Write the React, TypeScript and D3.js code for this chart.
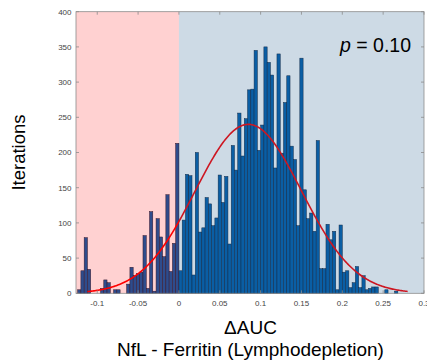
import React from 'react';
import * as d3 from 'd3';

// ---- data ----
const binStart = -0.124;
const binWidth = 0.004;
const counts = [
  5, 32, 79, 34, 0, 0, 0, 7, 19, 15, 0, 5, 5, 0, 0, 13, 37, 25, 28, 30, 82, 7, 116, 3, 106, 80, 52, 140, 31, 71, 213,
  32, 104, 169, 167, 26, 200, 87, 93, 136, 127, 96, 107, 168, 129, 166,
  70, 210, 175, 256, 195, 248, 289, 290, 345, 203, 239, 350,
  328, 310, 178, 340, 199, 271, 309, 209, 190, 96, 334, 147, 106, 114, 88, 217,
  35, 35, 98, 76, 88, 5, 97,
  30, 32, 8, 15, 38, 8, 25, 5, 7, 9, 9, 0, 0, 5, 0, 0, 3,
];
const xTicks = [-0.1, -0.05, 0, 0.05, 0.1, 0.15, 0.2, 0.25, 0.3];
const xTickLabels = ['-0.1', '-0.05', '0', '0.05', '0.1', '0.15', '0.2', '0.25', '0.3'];
const yTicks = [0, 50, 100, 150, 200, 250, 300, 350, 400];
const yTickLabels = ['0', '50', '100', '150', '200', '250', '300', '350', '400'];
const xDomain = [-0.126, 0.3];
const yDomain = [0, 400];
const fitMean = 0.085;
const fitSd = 0.065;
const fitPeak = 240;
const fitRange = [-0.112, 0.28];
const splitValue = 0;
const pLabel = 'p';
const pValueText = ' = 0.10';
const xTitle = 'ΔAUC';
const xSubtitle = 'NfL - Ferritin (Lymphodepletion)';
const yTitle = 'Iterations';

const FONT = '"Liberation Sans", Arial, Helvetica, sans-serif';

export default function App() {
  const W = 427;
  const H = 364;
  const left = 76, right = 424, top = 11.7, bottom = 293.3;
  const x = d3.scaleLinear().domain(xDomain).range([left, right]);
  const y = d3.scaleLinear().domain(yDomain).range([bottom, top]);

  const bins = counts.map((c, i) => ({
    x0: binStart + i * binWidth,
    x1: binStart + (i + 1) * binWidth,
    c,
  }));

  const pts: [number, number][] = d3.range(0, 301).map((i) => {
    const v = fitRange[0] + ((fitRange[1] - fitRange[0]) * i) / 300;
    return [v, fitPeak * Math.exp(-((v - fitMean) ** 2) / (2 * fitSd * fitSd))];
  });
  const line = d3
    .line<[number, number]>()
    .x((d) => x(d[0]))
    .y((d) => y(d[1]))
    .curve(d3.curveLinear);

  const axisColor = '#8c8c8c';
  const tickLen = 3;

  return (
    <svg
      width={W}
      height={H}
      style={{ position: 'absolute', left: 0, top: 0, background: '#fff' }}
      fontFamily={FONT}
    >
      {/* bars */}
      <g>
        {bins
          .filter((b) => b.c > 0)
          .map((b, i) => (
            <rect
              key={i}
              x={x(b.x0)}
              y={y(b.c)}
              width={x(b.x1) - x(b.x0)}
              height={y(0) - y(b.c)}
              fill="#005dab"
              stroke="#0b1b33"
              strokeWidth={0.5}
            />
          ))}
      </g>
      {/* fitted curve */}
      <path d={line(pts) || ''} fill="none" stroke="#ff0000" strokeWidth={1.6} />
      {/* shaded overlays */}
      <rect
        x={x(xDomain[0])}
        y={top}
        width={x(splitValue) - x(xDomain[0])}
        height={bottom - top}
        fill="rgb(255,0,0)"
        fillOpacity={0.18}
      />
      <rect
        x={x(splitValue)}
        y={top}
        width={x(xDomain[1]) - x(splitValue)}
        height={bottom - top}
        fill="rgb(43,98,145)"
        fillOpacity={0.235}
      />
      {/* axes box */}
      <rect x={left} y={top} width={right - left} height={bottom - top} fill="none" stroke={axisColor} strokeWidth={0.8} />
      {/* ticks */}
      {xTicks.map((t, i) => (
        <g key={'xt' + i}>
          <line x1={x(t)} x2={x(t)} y1={top} y2={top + tickLen} stroke={axisColor} strokeWidth={0.8} />
          <line x1={x(t)} x2={x(t)} y1={bottom} y2={bottom - tickLen} stroke={axisColor} strokeWidth={0.8} />
          <text x={x(t)} y={305.5} fontSize={8} fill="#444" textAnchor="middle">
            {xTickLabels[i]}
          </text>
        </g>
      ))}
      {yTicks.map((t, i) => (
        <g key={'yt' + i}>
          <line x1={left} x2={left + tickLen} y1={y(t)} y2={y(t)} stroke={axisColor} strokeWidth={0.8} />
          <line x1={right} x2={right - tickLen} y1={y(t)} y2={y(t)} stroke={axisColor} strokeWidth={0.8} />
          <text x={71.5} y={y(t) + 2.8} fontSize={8} fill="#444" textAnchor="end">
            {yTickLabels[i]}
          </text>
        </g>
      ))}
      {/* p-value */}
      <text x={340} y={52.3} fontSize={19.5} fill="#000">
        <tspan fontStyle="italic">{pLabel}</tspan>
        <tspan>{pValueText}</tspan>
      </text>
      {/* titles */}
      <text x={250.5} y={334.3} fontSize={19} fill="#000" textAnchor="middle">
        {xTitle}
      </text>
      <text x={250.5} y={356.3} fontSize={19} fill="#000" textAnchor="middle">
        {xSubtitle}
      </text>
      <text
        transform={`translate(25,152.5) rotate(-90)`}
        fontSize={18.5}
        fill="#000"
        textAnchor="middle"
      >
        {yTitle}
      </text>
    </svg>
  );
}
